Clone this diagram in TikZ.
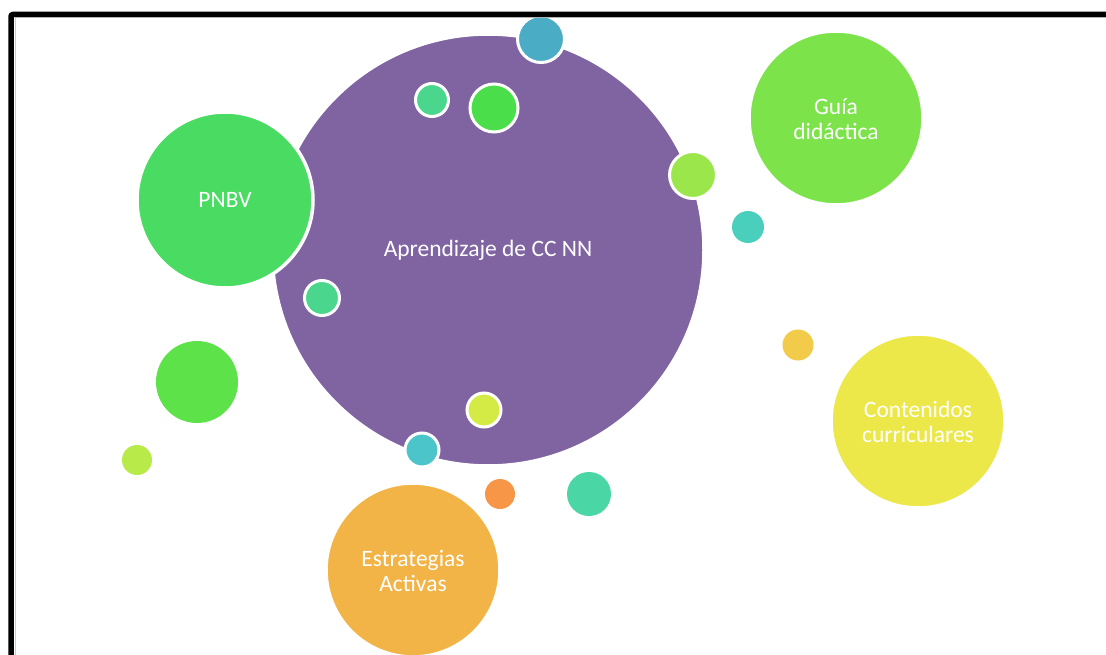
\documentclass[tikz,border=0pt]{standalone}
\usepackage{fontspec}
\setmainfont{Carlito}
\begin{document}
\begin{tikzpicture}[x=1pt,y=-1pt,
  bub/.style={circle,inner sep=0pt,draw=white,line width=3.5pt,fill=#1},
  dot/.style={circle,inner sep=0pt,draw=white,line width=3pt,fill=#1},
  lbl/.style={text=white,font=\fontsize{23.5}{25.5}\selectfont,align=center}]
\definecolor{cpurple}{HTML}{8064A2}
\definecolor{cpnbv}{HTML}{4ADB62}
\definecolor{cguia}{HTML}{7DE34A}
\definecolor{ccont}{HTML}{EDE84A}
\definecolor{cestr}{HTML}{F3B447}
\definecolor{cblue}{HTML}{4BACC6}
\definecolor{cmint}{HTML}{4BD68E}
\definecolor{cgreen}{HTML}{4ADF4A}
\definecolor{clime}{HTML}{9BE64A}
\definecolor{cteal}{HTML}{4ACFBC}
\definecolor{cgold}{HTML}{F2CB4A}
\definecolor{cbig}{HTML}{5EE24A}
\definecolor{csmlime}{HTML}{B8EA4A}
\definecolor{cyg}{HTML}{D5EB45}
\definecolor{ccyan}{HTML}{4BC4CA}
\definecolor{corange}{HTML}{F79646}
\definecolor{ctg}{HTML}{4BD6A5}
\useasboundingbox (0,0) rectangle (1106,655);
\fill[white] (0,0) rectangle (1106,655);
% main
\node[bub=cpurple,minimum size=432pt] (main) at (488,250) {};
\node[lbl] (mainl) at (main.center) {Aprendizaje de CC NN};
% big satellites
\node[bub=cpnbv,minimum size=176pt] (pnbv) at (225,200) {};
\node[lbl] at (pnbv.center) {PNBV};
\node[bub=cguia,minimum size=174pt] (guia) at (836,118) {};
\node[lbl] at ([yshift=-1pt]guia.center) {Guía\\didáctica};
\node[bub=ccont,minimum size=174pt] (cont) at (918,421) {};
\node[lbl] at ([yshift=-1pt]cont.center) {Contenidos\\curriculares};
\node[bub=cestr,minimum size=174pt] (estr) at (413,570) {};
\node[lbl] at ([yshift=-1pt]estr.center) {Estrategias\\Activas};
% small dots
\node[dot=cblue,minimum size=47pt] (d1) at (541,39) {};
\node[dot=cmint,minimum size=33pt] (d2) at (432,100) {};
\node[dot=cgreen,minimum size=48pt] (d3) at (494,108) {};
\node[dot=clime,minimum size=47pt] (d4) at (693,175) {};
\node[dot=cteal,minimum size=32pt,draw=none] (d5) at (748,227) {};
\node[dot=cmint,minimum size=35pt] (d6) at (322,298) {};
\node[dot=cbig,minimum size=82pt,draw=none] (d7) at (197,382) {};
\node[dot=cgold,minimum size=31pt,draw=none] (d8) at (798,345) {};
\node[dot=csmlime,minimum size=30pt,draw=none] (d9) at (137,460) {};
\node[dot=cyg,minimum size=34pt] (d10) at (484,410) {};
\node[dot=ccyan,minimum size=34pt] (d11) at (422,450) {};
\node[dot=corange,minimum size=30pt,draw=none] (d12) at (500,494) {};
\node[dot=ctg,minimum size=44pt,draw=none] (d13) at (589,494) {};
% frame
\draw[gray!40,line width=1pt] (15,655) -- (15,18) -- (1106,18);
\draw[black,line width=5.5pt,rounded corners=2pt] (11,655) -- (11,14.5) -- (1106,14.5);
\end{tikzpicture}
\end{document}
